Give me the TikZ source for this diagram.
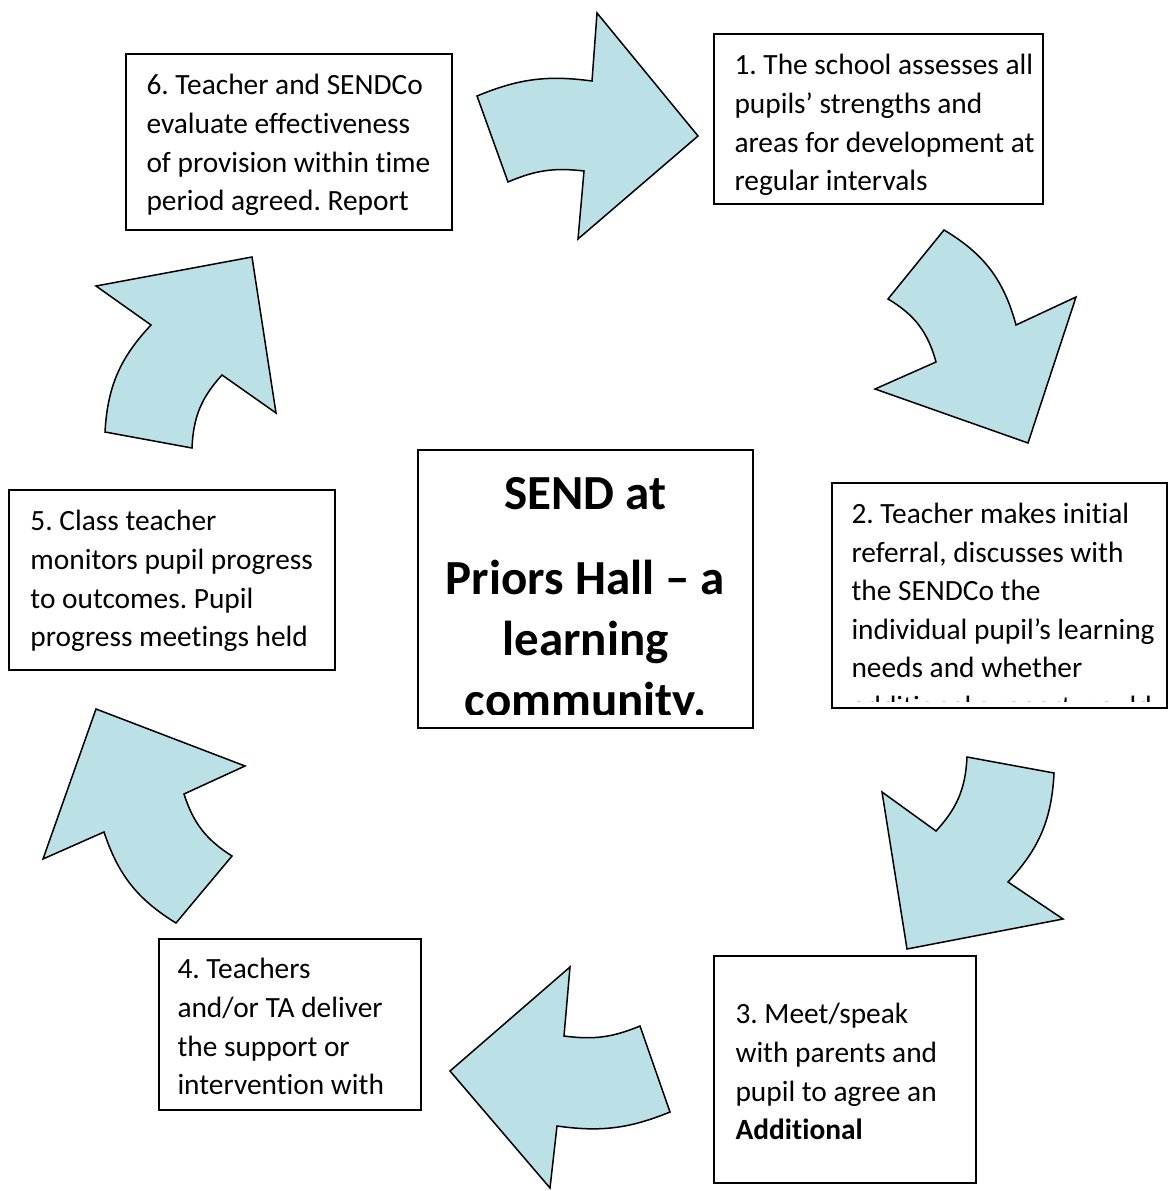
\documentclass[tikz,border=0pt]{standalone}
\usepackage{fontspec}
\setmainfont{Carlito}[Ligatures={TeX,NoCommon}]
\usetikzlibrary{fit}
\definecolor{arrowfill}{RGB}{187,224,229}
\newcommand{\bodyfont}{\fontsize{11.75}{15.44}\selectfont\frenchspacing}
\newcommand{\hubfont}{\fontsize{19.6}{24.4}\selectfont\bfseries\frenchspacing}

\begin{document}
\begin{tikzpicture}[x=0.4pt,y=-0.4pt,line join=miter,
  blockarrow/.style={draw=black,fill=arrowfill,line width=0.6pt},
  frame/.style={draw=black,line width=0.7pt,inner sep=0pt,fit={#1}},
  steptext/.style={anchor=north west,inner sep=0pt,align=left,font=\bodyfont,
    execute at begin node=\strut}]

  \useasboundingbox (0,0) rectangle (1169,1191);

  % curved arrows, clockwise from the top
  \draw[blockarrow] (477,96) to[bend left=15] (592,81) -- (597,13) -- (698,136)
    -- (578,239) -- (584,171) to[bend right=15] (508,182) -- cycle;
  \draw[blockarrow] (944,230) to[bend left=22] (1016,325) -- (1076,297) -- (1028,443)
    -- (875,389) -- (936,362) to[bend right=22] (888,299) -- cycle;
  \draw[blockarrow] (1054,773) to[bend left=20] (1008,882) -- (1063,919) -- (907,949)
    -- (882,792) -- (936,831) to[bend right=20] (967,757) -- cycle;
  \draw[blockarrow] (670,1112) to[bend left=15] (557,1126) -- (550,1188) -- (450,1071)
    -- (570,967) -- (564,1036) to[bend right=15] (640,1026) -- cycle;
  \draw[blockarrow] (176,923) to[bend left=20] (104,832) -- (43,859) -- (96,709)
    -- (245,766) -- (184,794) to[bend right=20] (232,856) -- cycle;
  \draw[blockarrow] (105,432) to[bend left=20] (151,325) -- (96,286) -- (252,257)
    -- (276,413) -- (222,375) to[bend right=20] (192,448) -- cycle;

  % centre box
  \node[frame={(418,450) (753,728)}] (hub) {};
  \begin{scope}
    \clip (418,450) rectangle (753,714);
    \node[anchor=north,inner sep=0pt,align=center,font=\hubfont,
      execute at begin node=\strut] (hubtext) at (585.5,476.5)
      {SEND at\\[9.6pt]Priors Hall – a\\learning\\community.};
  \end{scope}

  % step 1
  \node[frame={(714,34) (1043,204)}] (box1) {};
  \begin{scope}
    \clip (714,34) rectangle (1043,204);
    \node[steptext] (step1) at (734,54)
      {1. The school assesses all\\pupils’ strengths and\\areas for development at\\regular intervals};
  \end{scope}

  % step 2
  \node[frame={(832,483) (1167,708)}] (box2) {};
  \begin{scope}
    \clip (832,483) rectangle (1167,701);
    \node[steptext] (step2) at (851,502.5)
      {2. Teacher makes initial\\referral, discusses with\\the SENDCo the\\individual pupil’s learning\\needs and whether\\additional support would};
  \end{scope}

  % step 3
  \node[frame={(714,956) (976,1183)}] (box3) {};
  \begin{scope}
    \clip (714,956) rectangle (976,1183);
    \node[steptext] (step3) at (735,1003)
      {3. Meet/speak\\with parents and\\pupil to agree an\\\textbf{Additional}};
  \end{scope}

  % step 4
  \node[frame={(159,939) (421,1110)}] (box4) {};
  \begin{scope}
    \clip (159,939) rectangle (421,1110);
    \node[steptext] (step4) at (177,958)
      {4. Teachers\\and/or TA deliver\\the support or\\intervention with};
  \end{scope}

  % step 5
  \node[frame={(9,490) (335,670)}] (box5) {};
  \begin{scope}
    \clip (9,490) rectangle (335,670);
    \node[steptext] (step5) at (30,510)
      {5. Class teacher\\monitors pupil progress\\to outcomes. Pupil\\progress meetings held};
  \end{scope}

  % step 6
  \node[frame={(126,54) (452,230)}] (box6) {};
  \begin{scope}
    \clip (126,54) rectangle (452,230);
    \node[steptext] (step6) at (146,74)
      {6. Teacher and SENDCo\\evaluate effectiveness\\of provision within time\\period agreed. Report};
  \end{scope}
\end{tikzpicture}
\end{document}
